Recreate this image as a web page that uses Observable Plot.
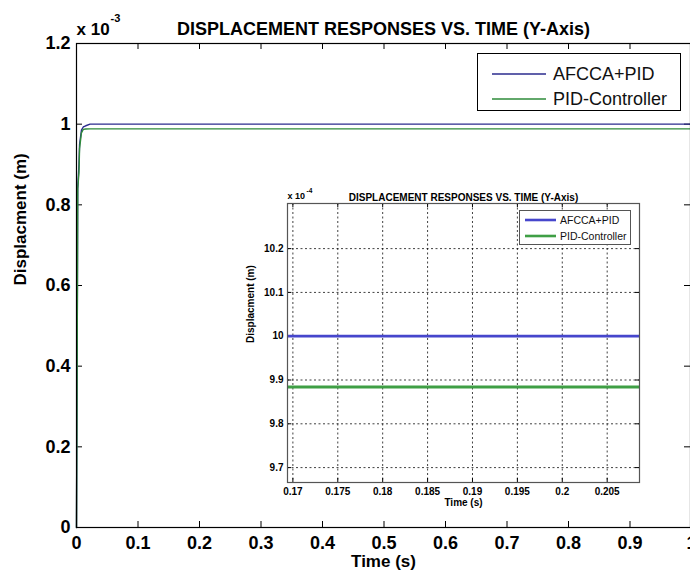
<!DOCTYPE html>
<html><head><meta charset="utf-8">
<script src="https://cdn.jsdelivr.net/npm/d3@7"></script>
<script src="https://cdn.jsdelivr.net/npm/@observablehq/plot@0.6"></script>
<style>
body{margin:0;background:#fff}
#chart{position:relative;width:690px;height:579px;overflow:hidden;background:#fff}
#chart svg{position:absolute;overflow:visible}
</style></head><body><div id="chart"></div>
<script>
// ---- data (displacement in units of 10^-3 m) ----
const seriesNames = ["AFCCA+PID", "PID-Controller"];
const mainColors = ["#2b2b8e", "#2e8b3a"];
const insetColors = ["#4646cc", "#3f9f45"];
const time = [0, 0.0015, 0.002, 0.004, 0.005, 0.008, 0.011, 0.015, 0.022, 0.1, 0.5, 1];
const afccaPid = [0, 0.60, 0.84, 0.90, 0.95, 0.985, 0.993, 0.996, 1.0, 1.0, 1.0, 1.0];
const pidController = [0, 0.60, 0.84, 0.88, 0.94, 0.978, 0.987, 0.988, 0.9884, 0.9884, 0.9884, 0.9884];
const xTicks = [0, 0.1, 0.2, 0.3, 0.4, 0.5, 0.6, 0.7, 0.8, 0.9, 1];
const yTicks = [0, 0.2, 0.4, 0.6, 0.8, 1, 1.2];
const insetXTicks = [0.17, 0.175, 0.18, 0.185, 0.19, 0.195, 0.2, 0.205];
const insetYTicks = [9.7, 9.8, 9.9, 10, 10.1, 10.2];
const insetXDomain = [0.1694, 0.2086];
const insetYDomain = [9.666, 10.303];
const titleText = "DISPLACEMENT RESPONSES VS. TIME (Y-Axis)";
const xLabel = "Time (s)";
const yLabel = "Displacment (m)";
const mainExp = "-3";
const insetExp = "-4";

const values = [afccaPid, pidController];
const rows = seriesNames.flatMap((s, i) => time.map((t, j) => ({t, v: values[i][j], s})));
const fmt = d3.format("~g");
const FONT = "'Liberation Sans', Arial, Helvetica, sans-serif";

function addLegend(svg, spec, colorScale) {
  const g = d3.select(svg).append("g").attr("font-family", FONT).attr("text-anchor", "start");
  g.append("rect").attr("x", spec.x).attr("y", spec.y).attr("width", spec.w).attr("height", spec.h)
    .attr("fill", "white").attr("stroke", spec.boxStroke).attr("stroke-width", 1);
  seriesNames.forEach((name, i) => {
    const yy = spec.rowY[i];
    g.append("line").attr("x1", spec.lx1).attr("x2", spec.lx2).attr("y1", yy).attr("y2", yy)
      .attr("stroke", colorScale.apply(name)).attr("stroke-width", spec.sw);
    g.append("text").attr("x", spec.tx).attr("y", yy).attr("dy", "0.35em")
      .attr("text-anchor", "start")
      .attr("font-size", spec.fs).attr("fill", "#111").text(name);
  });
}

// ---- main chart ----
const main = Plot.plot({
  width: 690, height: 579,
  marginLeft: 76, marginRight: 0, marginTop: 43, marginBottom: 52,
  style: {fontFamily: FONT, background: "transparent", color: "#000"},
  x: {domain: [0, 1], range: [76, 691]},
  y: {domain: [0, 1.2]},
  color: {domain: seriesNames, range: mainColors},
  marks: [
    Plot.ruleX(xTicks, {insetTop: 478, stroke: "#000"}),
    Plot.ruleX(xTicks, {insetBottom: 478, stroke: "#000"}),
    Plot.ruleY(yTicks, {insetRight: 608, stroke: "#000"}),
    Plot.ruleY(yTicks, {insetLeft: 608, stroke: "#000"}),
    Plot.line(rows, {x: "t", y: "v", z: "s", stroke: "s", strokeWidth: 1.4}),
    Plot.frame({stroke: "#000", strokeWidth: 1.2}),
    Plot.axisX(xTicks, {tickSize: 0, tickPadding: 9, fontSize: 18, fontWeight: "bold", tickFormat: fmt, label: null}),
    Plot.axisY(yTicks, {tickSize: 0, tickPadding: 6, fontSize: 18, fontWeight: "bold", tickFormat: fmt, label: null}),
    Plot.text([titleText], {frameAnchor: "top", dy: -21, fontSize: 18, fontWeight: "bold"}),
    Plot.text(["x 10"], {frameAnchor: "top-left", textAnchor: "start", lineAnchor: "bottom", dx: 0, dy: -9, fontSize: 17, fontWeight: "bold"}),
    Plot.text([mainExp], {frameAnchor: "top-left", textAnchor: "start", lineAnchor: "bottom", dx: 34, dy: -22, fontSize: 11, fontWeight: "bold"}),
    Plot.text([xLabel], {frameAnchor: "bottom", dy: 39, fontSize: 17, fontWeight: "bold"}),
    Plot.text([yLabel], {frameAnchor: "left", rotate: -90, dx: -56, fontSize: 17, fontWeight: "bold"})
  ]
});
main.style.left = "0px"; main.style.top = "0px";
addLegend(main, {x: 477.5, y: 53.5, w: 203, h: 57, rowY: [74, 99], lx1: 492, lx2: 546, tx: 553, fs: 18, sw: 1.4, boxStroke: "#000"}, main.scale("color"));
document.getElementById("chart").appendChild(main);

// ---- inset (zoom) chart ----
const inset = Plot.plot({
  width: 414, height: 357,
  marginLeft: 52, marginRight: 10, marginTop: 38, marginBottom: 40,
  style: {fontFamily: FONT, background: "transparent", color: "#000"},
  x: {domain: insetXDomain},
  y: {domain: insetYDomain},
  color: {domain: seriesNames, range: insetColors},
  marks: [
    Plot.frame({fill: "white"}),
    Plot.ruleX(insetXTicks, {stroke: "#000", strokeDasharray: "2,2.5", strokeOpacity: 0.75}),
    Plot.ruleY(insetYTicks, {stroke: "#000", strokeDasharray: "2,2.5", strokeOpacity: 0.75}),
    Plot.ruleX(insetXTicks, {insetTop: 275, stroke: "#000"}),
    Plot.ruleX(insetXTicks, {insetBottom: 275, stroke: "#000"}),
    Plot.ruleY(insetYTicks, {insetRight: 348, stroke: "#000"}),
    Plot.ruleY(insetYTicks, {insetLeft: 348, stroke: "#000"}),
    Plot.line(rows, {x: "t", y: d => d.v * 10, z: "s", stroke: "s", strokeWidth: 2.8, clip: true}),
    Plot.frame({stroke: "#555", strokeWidth: 1.2}),
    Plot.axisX(insetXTicks, {tickSize: 0, tickPadding: 5, fontSize: 10, fontWeight: "bold", tickFormat: fmt, label: null}),
    Plot.axisY(insetYTicks, {tickSize: 0, tickPadding: 4, fontSize: 10, fontWeight: "bold", tickFormat: fmt, label: null}),
    Plot.text([titleText], {frameAnchor: "top", dy: -10, fontSize: 10, fontWeight: "bold"}),
    Plot.text(["x 10"], {frameAnchor: "top-left", textAnchor: "start", lineAnchor: "bottom", dx: 0, dy: -5, fontSize: 9, fontWeight: "bold"}),
    Plot.text([insetExp], {frameAnchor: "top-left", textAnchor: "start", lineAnchor: "bottom", dx: 19, dy: -11, fontSize: 6.5, fontWeight: "bold"}),
    Plot.text([xLabel], {frameAnchor: "bottom", dy: 23, fontSize: 10, fontWeight: "bold"}),
    Plot.text([yLabel], {frameAnchor: "left", rotate: -90, dx: -37, fontSize: 10, fontWeight: "bold"})
  ]
});
inset.style.left = "235px"; inset.style.top = "165px";
addLegend(inset, {x: 284.5, y: 45.5, w: 111, h: 34, rowY: [55, 71], lx1: 290, lx2: 321, tx: 325, fs: 10.5, sw: 2.6, boxStroke: "#555"}, inset.scale("color"));
document.getElementById("chart").appendChild(inset);
</script>
</body></html>
